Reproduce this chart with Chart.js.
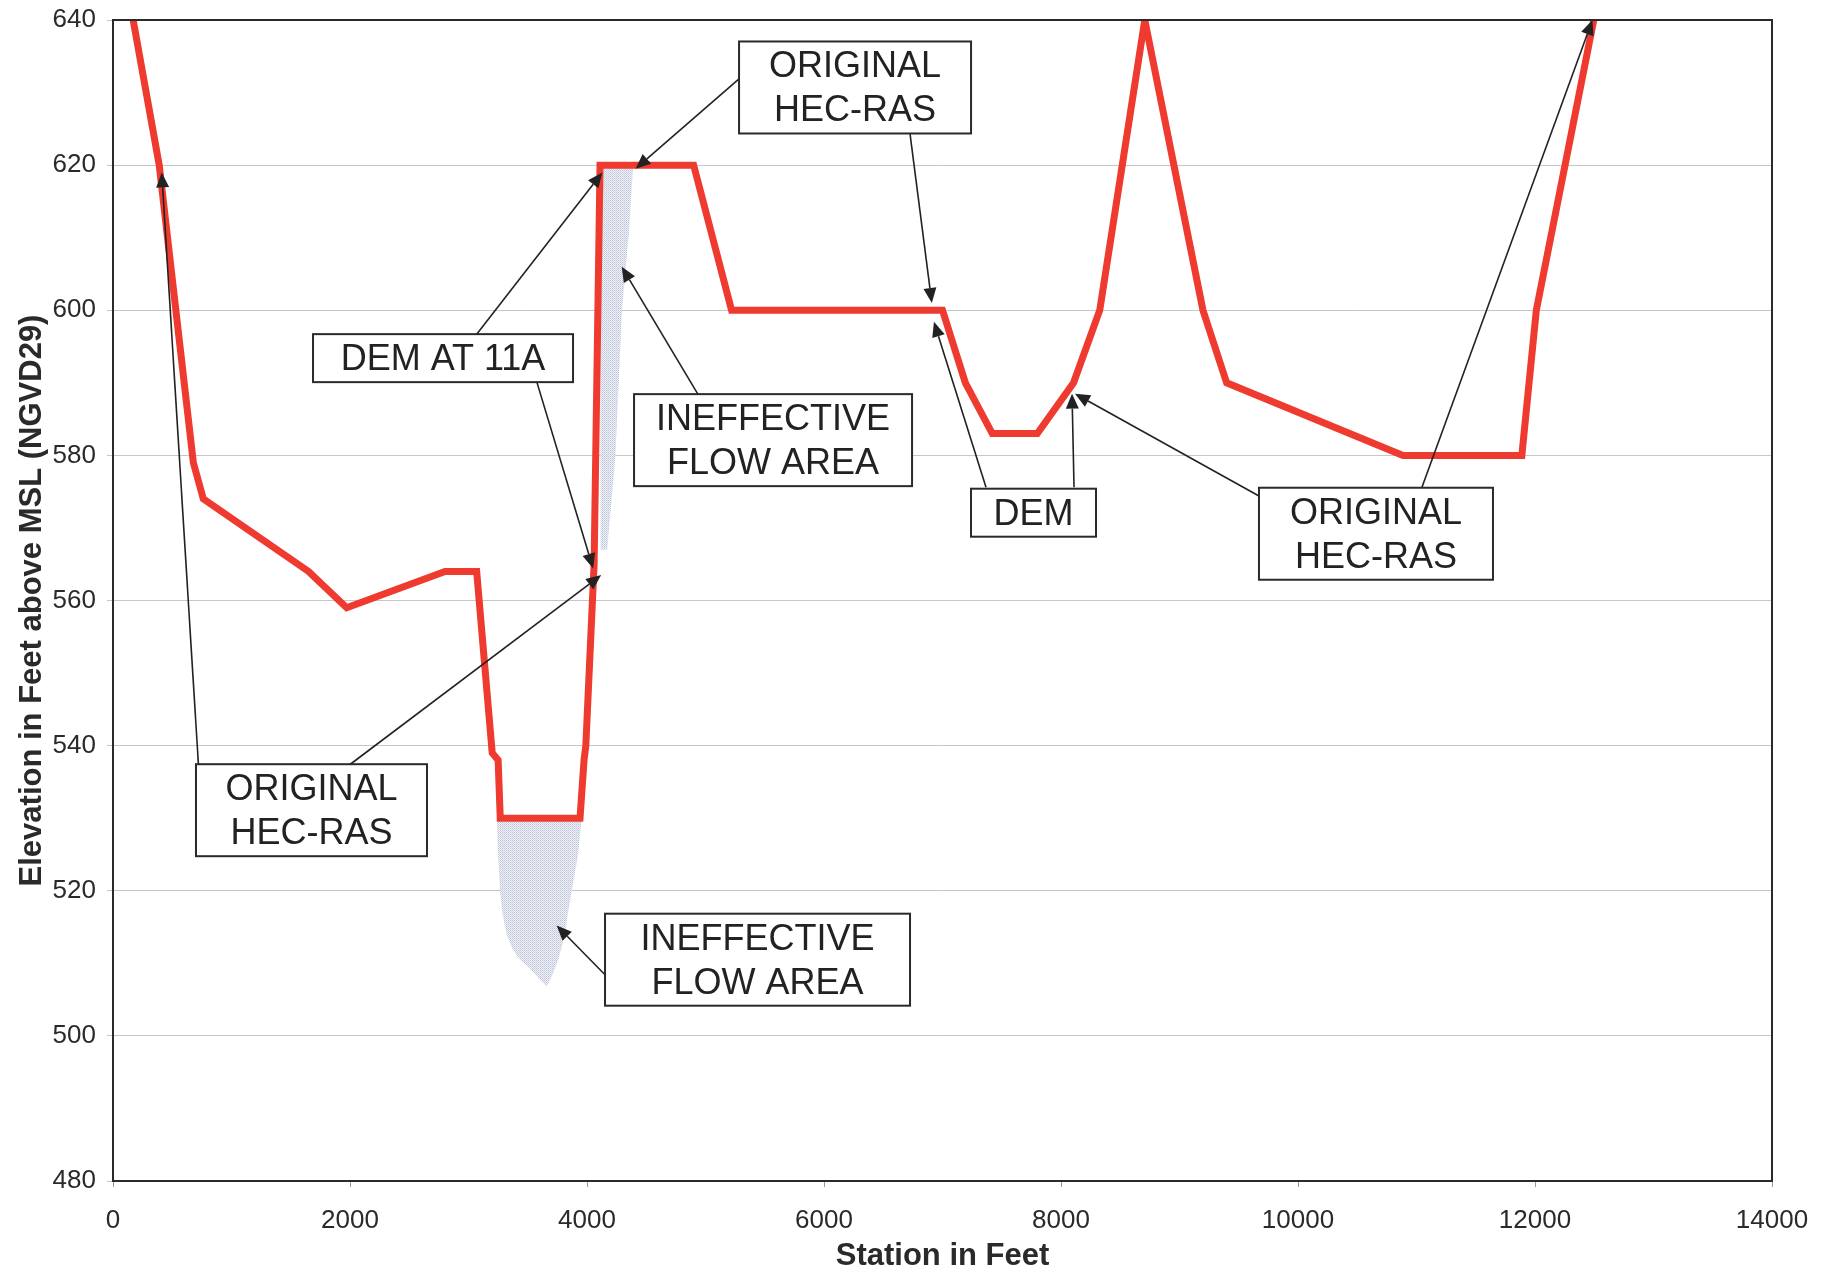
<!DOCTYPE html>
<html>
<head>
<meta charset="utf-8">
<title>Cross Section - Station vs Elevation</title>
<script src="https://cdn.jsdelivr.net/npm/chart.js@4.4.1/dist/chart.umd.min.js"></script>
<style>
  html, body { margin: 0; padding: 0; background: #fff; }
  #wrap { position: relative; width: 1830px; height: 1275px; }
</style>
</head>
<body>
<div id="wrap"><canvas id="sectionChart"></canvas></div>
<script>
// ground profile, station / elevation in feet
const stationFt = [170, 390, 678, 762, 1650, 1972, 2802, 3069, 3200, 3250, 3268, 3941, 3975, 3990, 4060, 4110, 4900, 5220, 7000, 7193, 7420, 7800, 8106, 8327, 8707, 9198, 9398, 10886, 11889, 12011, 12496];
const elevationFt = [640, 620, 579, 574, 564, 559, 564, 564, 539, 538, 530, 530, 538, 540, 565, 620, 620, 600, 600, 590, 583, 583, 590, 600, 640, 600, 590, 580, 580, 600, 640];

// ineffective flow areas (outline)
const upperIneffStation = [4110, 4390, 4350, 4295, 4240, 4170, 4115];
const upperIneffElev = [620, 620, 610, 600, 580, 567, 567];
const lowerIneffStation = [3238, 3955, 3925, 3871, 3840, 3814, 3758, 3710, 3660, 3600, 3520, 3435, 3370, 3322, 3285, 3266, 3250];
const lowerIneffElev = [530, 530, 525, 520, 517, 514, 510.5, 508.5, 506.8, 507.8, 509.3, 510.5, 512, 514, 517, 520, 525];

const xTicks = [0, 2000, 4000, 6000, 8000, 10000, 12000, 14000];
const yTicks = [480, 500, 520, 540, 560, 580, 600, 620, 640];

// callouts: box centre [station, elev], arrows [fromSta, fromElev, toSta, toElev]
const callouts = [
    { lines: ['ORIGINAL', 'HEC-RAS'], at: [6262, 630.7], w: 232,
      arrows: [[5283, 631.9, 4410, 619.5], [6726, 624.3, 6910, 601]] },
    { lines: ['DEM AT 11A'], at: [2785, 593.4], w: 260,
      arrows: [[3069, 596.7, 4130, 619], [3575, 590.2, 4052, 564.4]] },
    { lines: ['INEFFECTIVE', 'FLOW AREA'], at: [5570, 582.1], w: 278,
      arrows: [[4937, 588.4, 4293, 606]] },
    { lines: ['ORIGINAL', 'HEC-RAS'], at: [1675, 531.1], w: 231,
      arrows: [[721, 537.4, 411, 619], [2000, 537.4, 4120, 563.5]] },
    { lines: ['INEFFECTIVE', 'FLOW AREA'], at: [5439, 510.5], w: 305,
      arrows: [[4148, 508.5, 3744, 515.2]] },
    { lines: ['DEM'], at: [7768, 572.1], w: 125,
      arrows: [[7367, 575.6, 6928, 598.4], [8110, 575.6, 8093, 588.5]] },
    { lines: ['ORIGINAL', 'HEC-RAS'], at: [10658, 569.2], w: 234,
      arrows: [[9671, 574.4, 8118, 588.5], [11046, 575.6, 12485, 640]] }
];

const toPts = (xs, ys) => xs.map((x, i) => ({ x: x, y: ys[i] }));

// stippled fill like the scanned original
function stipple() {
    const c = document.createElement('canvas');
    c.width = 2; c.height = 2;
    const g = c.getContext('2d');
    g.fillStyle = '#eef0f6';
    g.fillRect(0, 0, 2, 2);
    g.fillStyle = '#bcc4d9';
    g.fillRect(0, 0, 1, 1);
    g.fillStyle = '#d0d6e4';
    g.fillRect(1, 1, 1, 1);
    return g.createPattern(c, 'repeat');
}

const fontFam = '"Liberation Sans", Arial, Helvetica, sans-serif';
Chart.defaults.font.family = fontFam;
Chart.defaults.color = '#222';

const calloutPlugin = {
    id: 'callouts',
    afterDatasetsDraw(chart) {
        const { ctx, chartArea: a, scales: { x, y } } = chart;
        ctx.save();
        // plot frame
        ctx.strokeStyle = '#2a2a2a';
        ctx.lineWidth = 2;
        ctx.strokeRect(a.left, a.top, a.right - a.left, a.bottom - a.top);

        // arrows
        ctx.strokeStyle = '#222';
        ctx.fillStyle = '#222';
        ctx.lineWidth = 1.6;
        callouts.forEach(c => c.arrows.forEach(ar => {
            const x0 = x.getPixelForValue(ar[0]), y0 = y.getPixelForValue(ar[1]);
            const x1 = x.getPixelForValue(ar[2]), y1 = y.getPixelForValue(ar[3]);
            const ang = Math.atan2(y1 - y0, x1 - x0);
            const L = 15, W = 6.5;
            const bx = x1 - L * Math.cos(ang), by = y1 - L * Math.sin(ang);
            ctx.beginPath();
            ctx.moveTo(x0, y0);
            ctx.lineTo(bx, by);
            ctx.stroke();
            ctx.beginPath();
            ctx.moveTo(x1, y1);
            ctx.lineTo(bx + W * Math.sin(ang), by - W * Math.cos(ang));
            ctx.lineTo(bx - W * Math.sin(ang), by + W * Math.cos(ang));
            ctx.closePath();
            ctx.fill();
        }));

        // boxes
        ctx.font = '36px ' + fontFam;
        ctx.textAlign = 'center';
        ctx.textBaseline = 'middle';
        callouts.forEach(c => {
            const cx = x.getPixelForValue(c.at[0]), cy = y.getPixelForValue(c.at[1]);
            const h = c.lines.length * 44 + 4;
            ctx.fillStyle = '#fff';
            ctx.fillRect(cx - c.w / 2, cy - h / 2, c.w, h);
            ctx.strokeStyle = '#2a2a2a';
            ctx.lineWidth = 2;
            ctx.strokeRect(cx - c.w / 2, cy - h / 2, c.w, h);
            ctx.fillStyle = '#222';
            c.lines.forEach((t, i) => {
                ctx.fillText(t, cx, cy + (i - (c.lines.length - 1) / 2) * 44 + 2);
            });
        });
        ctx.restore();
    }
};

const ctx = document.getElementById('sectionChart').getContext('2d');
const sectionChart = new Chart(ctx, {
    type: 'scatter',
    data: {
        datasets: [{
            label: 'Ground',
            data: toPts(stationFt, elevationFt),
            showLine: true,
            borderColor: '#ee3a2f',
            borderWidth: 7,
            borderJoinStyle: 'miter',
            pointRadius: 0,
            fill: false,
            order: 0
        }, {
            label: 'Ineffective upper',
            data: toPts(upperIneffStation, upperIneffElev),
            showLine: true,
            borderWidth: 0,
            borderColor: 'rgba(0,0,0,0)',
            backgroundColor: stipple(),
            pointRadius: 0,
            fill: 'shape',
            order: 1
        }, {
            label: 'Ineffective lower',
            data: toPts(lowerIneffStation, lowerIneffElev),
            showLine: true,
            borderWidth: 0,
            borderColor: 'rgba(0,0,0,0)',
            backgroundColor: stipple(),
            pointRadius: 0,
            fill: 'shape',
            order: 1
        }]
    },
    options: {
        responsive: true,
        maintainAspectRatio: false,
        animation: false,
        layout: { padding: { top: 20, right: 58, bottom: 0, left: 0 } },
        plugins: {
            legend: { display: false },
            tooltip: { enabled: false }
        },
        scales: {
            x: {
                type: 'linear',
                min: 0,
                max: 14000,
                afterBuildTicks: s => { s.ticks = xTicks.map(v => ({ value: v })); },
                afterFit: s => { s.height = 94; },
                grid: { drawOnChartArea: false, drawTicks: true, tickLength: 6, color: '#9a9a9a' },
                border: { display: false },
                ticks: {
                    font: { size: 26 }, color: '#2a2a2a', padding: 18, maxRotation: 0,
                    callback: v => String(v)
                },
                title: {
                    display: true,
                    text: 'Station in Feet',
                    font: { size: 31, weight: 'bold' },
                    color: '#2a2a2a',
                    padding: { top: 0, bottom: 0 }
                }
            },
            y: {
                type: 'linear',
                min: 480,
                max: 640,
                afterBuildTicks: s => { s.ticks = yTicks.map(v => ({ value: v })); },
                afterFit: s => { s.width = 113; s.paddingTop = 0; s.paddingBottom = 0; },
                grid: { color: '#c6c6c6', lineWidth: 1, tickLength: 6 },
                border: { display: false },
                ticks: {
                    font: { size: 26 }, color: '#2a2a2a', padding: 11,
                    callback: v => String(v)
                },
                title: {
                    display: true,
                    text: 'Elevation in Feet above MSL (NGVD29)',
                    font: { size: 31, weight: 'bold' },
                    color: '#2a2a2a',
                    padding: { top: 14, bottom: 0 }
                }
            }
        }
    },
    plugins: [calloutPlugin]
});
</script>
</body>
</html>
